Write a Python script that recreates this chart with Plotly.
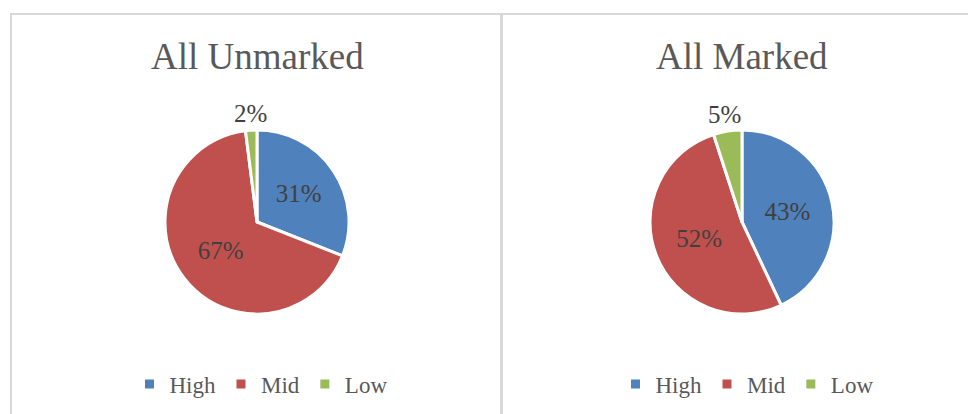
import math
import plotly.graph_objects as go

# Share of items by level, unmarked vs marked
categories = ["High", "Mid", "Low"]
unmarked_pct = [31, 67, 2]
marked_pct = [43, 52, 5]
titles = ["All Unmarked", "All Marked"]
colors = ["#4F81BD", "#C0504D", "#9BBB59"]

W, H = 968, 414
SERIF = "Liberation Serif"
R = 92  # pie radius in px
centers = [(257, 222), (742, 222)]
legend_x = [261, 747]


def px_x(x):
    return x / W


def px_y(y):
    return 1 - y / H


fig = go.Figure()
for i, (vals, (cx, cy)) in enumerate(zip([unmarked_pct, marked_pct], centers)):
    # the smallest slice gets its label placed outside by annotation
    texts = [f"{v}%" if v >= 10 else "" for v in vals]
    # zero-width suffix keeps the second pie's legend entries separate
    labels = categories if i == 0 else [c + "\u200b" for c in categories]
    fig.add_trace(go.Pie(
        labels=labels, values=vals, sort=False, direction="clockwise", rotation=0,
        marker=dict(colors=colors, line=dict(color="white", width=3)),
        text=texts, textinfo="text", textposition="inside",
        insidetextorientation="horizontal",
        textfont=dict(family=SERIF, size=25, color="#404040"),
        domain=dict(x=[px_x(cx - R), px_x(cx + R)], y=[px_y(cy + R), px_y(cy - R)]),
        legend="legend" if i == 0 else "legend2",
        hoverinfo="label+percent",
    ))
    # outside label for small slices, placed along the slice's mid-angle
    total = sum(vals)
    cum = 0
    for v in vals:
        if v < 10:
            mid = (cum + v / 2) / total * 2 * math.pi
            lx = cx + (R + 17) * math.sin(mid)
            ly = cy - (R + 17) * math.cos(mid)
            fig.add_annotation(x=px_x(lx), y=px_y(ly), xref="paper", yref="paper",
                               xanchor="center", yanchor="middle",
                               text=f"{v}%", showarrow=False,
                               font=dict(family=SERIF, size=25, color="#404040"))
        cum += v
    fig.add_annotation(x=px_x(cx), y=px_y(57), xref="paper", yref="paper",
                       xanchor="center", yanchor="middle",
                       text=titles[i], showarrow=False,
                       font=dict(family=SERIF, size=37, color="#595959"))

# panel borders
border = dict(color="#D9D9D9", width=2)
fig.add_shape(type="line", xref="paper", yref="paper", x0=px_x(11), x1=px_x(968), y0=px_y(14), y1=px_y(14), line=border)
fig.add_shape(type="line", xref="paper", yref="paper", x0=px_x(11), x1=px_x(11), y0=px_y(13), y1=px_y(414), line=border)
fig.add_shape(type="line", xref="paper", yref="paper", x0=px_x(501.5), x1=px_x(501.5), y0=px_y(13), y1=px_y(414), line=dict(color="#D9D9D9", width=3))

legend_style = dict(orientation="h", xanchor="center", yanchor="middle",
                    font=dict(family=SERIF, size=23, color="#595959"),
                    bgcolor="rgba(0,0,0,0)", itemclick=False, itemdoubleclick=False)
fig.update_layout(
    width=W, height=H, margin=dict(l=0, r=0, t=0, b=0),
    paper_bgcolor="white", plot_bgcolor="white",
    legend=dict(x=px_x(legend_x[0]), y=px_y(384), **legend_style),
    legend2=dict(x=px_x(legend_x[1]), y=px_y(384), **legend_style),
)

fig.write_html("out.html")
